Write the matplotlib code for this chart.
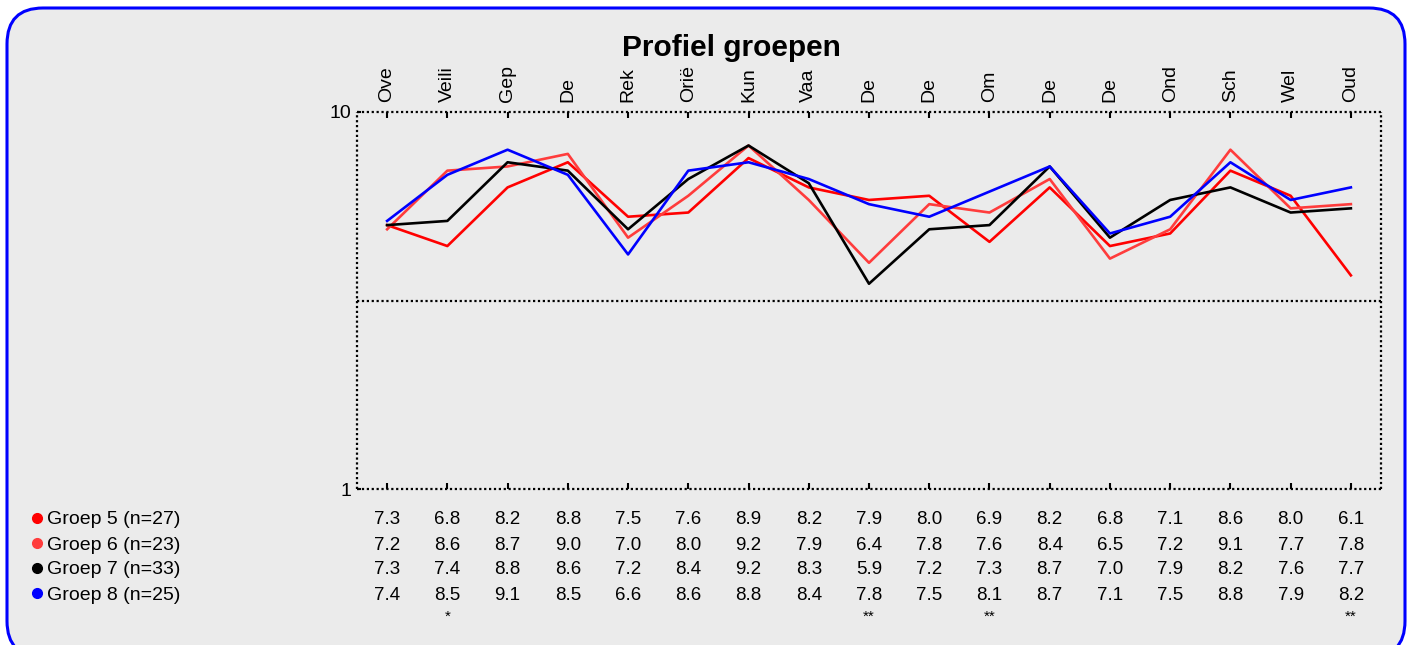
import numpy as np
import matplotlib.pyplot as plt
from matplotlib.patches import FancyBboxPatch
from matplotlib.lines import Line2D
from matplotlib.transforms import IdentityTransform, blended_transform_factory

plt.rcParams['font.family'] = ['Liberation Sans', 'DejaVu Sans']

categories = ["Ove", "Veili", "Gep", "De", "Rek", "Orië", "Kun", "Vaa", "De",
              "De", "Om", "De", "De", "Ond", "Sch", "Wel", "Oud"]

groep5 = [7.3, 6.8, 8.2, 8.8, 7.5, 7.6, 8.9, 8.2, 7.9, 8.0, 6.9, 8.2, 6.8, 7.1, 8.6, 8.0, 6.1]
groep6 = [7.2, 8.6, 8.7, 9.0, 7.0, 8.0, 9.2, 7.9, 6.4, 7.8, 7.6, 8.4, 6.5, 7.2, 9.1, 7.7, 7.8]
groep7 = [7.3, 7.4, 8.8, 8.6, 7.2, 8.4, 9.2, 8.3, 5.9, 7.2, 7.3, 8.7, 7.0, 7.9, 8.2, 7.6, 7.7]
groep8 = [7.4, 8.5, 9.1, 8.5, 6.6, 8.6, 8.8, 8.4, 7.8, 7.5, 8.1, 8.7, 7.1, 7.5, 8.8, 7.9, 8.2]
signif = ["", "*", "", "", "", "", "", "", "**", "", "**", "", "", "", "", "", "**"]

series = [
    ("Groep 5 (n=27)", groep5, "#ff0000"),
    ("Groep 6 (n=23)", groep6, "#ff3c3c"),
    ("Groep 7 (n=33)", groep7, "#000000"),
    ("Groep 8 (n=25)", groep8, "#0000ff"),
]
threshold = 5.5

W, H = 1410, 645
fig = plt.figure(figsize=(W / 100, H / 100), dpi=100, facecolor="white")

# rounded panel behind everything (pixel coordinates)
panel = FancyBboxPatch((7, -12), 1398, 649, boxstyle="round,pad=0,rounding_size=36",
                       transform=IdentityTransform(), facecolor="#ebebeb",
                       edgecolor="#0000ff", linewidth=2.2, zorder=-10)
fig.patches.append(panel)

ax = fig.add_axes([357 / W, (H - 489) / H, (1381 - 357) / W, (489 - 112) / H])
ax.set_facecolor("none")

x = np.arange(len(categories))
for name, vals, col in series:
    ax.plot(x, vals, color=col, linewidth=1.9)

ax.axhline(threshold, color="black", linewidth=1.6, linestyle=(0, (1, 1.2)),
           dash_capstyle="butt")

ax.set_xlim(-0.5, len(categories) - 0.5)
ax.set_ylim(1, 10)
ax.set_yticks([1, 10])
ax.set_yticklabels(["1", "10"], fontsize=14)
ax.set_xticks(x)
ax.set_xticklabels(categories, rotation=90, fontsize=14)
ax.tick_params(axis="x", top=True, bottom=True, labeltop=True, labelbottom=False,
               direction="in", length=4, width=1.5, pad=7)
ax.tick_params(axis="y", left=True, direction="in", length=3, width=1.5, pad=4)
for sp in ax.spines.values():
    sp.set_linestyle((0, (1, 1.2)))
    sp.set_linewidth(1.6)
    sp.set_capstyle("butt")

fig.text(731 / W, (H - 48) / H, "Profiel groepen", fontsize=21.5, fontweight="bold",
         ha="center", va="center")

# value table under the chart
tr = blended_transform_factory(ax.transData, fig.transFigure)
row_y = [520, 545, 570, 595]
for (name, vals, col), py in zip(series, row_y):
    yf = (H - py) / H
    fig.add_artist(Line2D([37 / W], [yf + 2 / H], transform=fig.transFigure, marker="o",
                          markersize=7, color=col, linestyle="none"))
    fig.text(47 / W, yf, name, fontsize=14, ha="left", va="center")
    for xi, v in zip(x, vals):
        ax.text(xi, yf, f"{v:.1f}", transform=tr, fontsize=13.5, ha="center", va="center")
for xi, s in zip(x, signif):
    if s:
        ax.text(xi, (H - 617) / H, s, transform=tr, fontsize=11, ha="center", va="center")

fig.savefig("out.png", dpi=100, facecolor="white")
